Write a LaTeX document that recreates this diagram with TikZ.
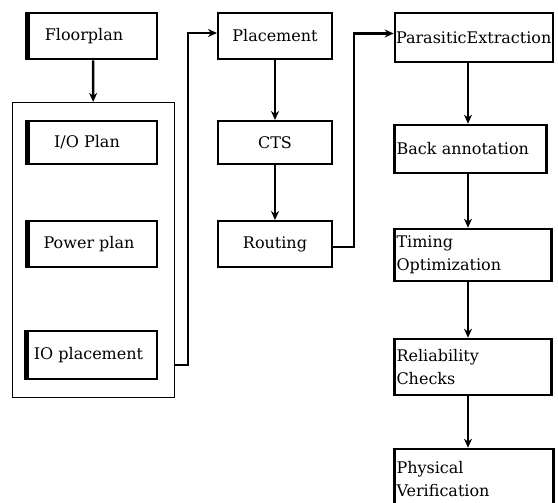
\documentclass[tikz,border=0pt]{standalone}
\usepackage{fontspec}
\setmainfont{DejaVu Serif}
\usetikzlibrary{arrows.meta}

\tikzset{
  stage/.style={draw, line width=2.6pt, inner sep=2pt, font=\fontsize{16}{23}\selectfont},
  thinstage/.style={stage, line width=2pt},
  leftstage/.style={stage, align=left, text width=#1, anchor=center},
  flow/.style={-{Stealth[length=9pt,width=8pt]}, line width=2.4pt},
}

\begin{document}
\begin{tikzpicture}[x=1pt,y=-1pt]
  \useasboundingbox (0,0) rectangle (558,503);
  % left column
  \node[stage, minimum width=128pt, minimum height=46pt] (floor) at (93,36) {Floorplan\kern18pt};
  \node[draw, line width=1.2pt, minimum width=162pt, minimum height=295pt] (group) at (93.5,250) {};
  \node[stage, minimum width=128pt, minimum height=43pt] (ioplan) at (93,142.5) {I/O Plan\kern12pt};
  \node[stage, minimum width=128pt, minimum height=46pt] (power) at (93,244) {Power plan\kern8pt};
  \node[stage, minimum width=129pt, minimum height=48pt] (ioplace) at (92.5,355) {IO placement\kern8pt};
  \foreach \n in {floor, ioplan, power, ioplace}
    \draw[line width=4.5pt] (\n.north west) -- (\n.south west);
  % middle column
  \node[thinstage, minimum width=114pt, minimum height=46pt] (place) at (275,36) {Placement};
  \node[thinstage, minimum width=114pt, minimum height=43pt] (cts) at (275,142.5) {CTS};
  \node[thinstage, minimum width=114pt, minimum height=46pt] (route) at (275,244) {Routing};
  % right column
  \node[stage, text width=156pt, minimum height=49pt, inner sep=1pt] (parex) at (474,37.5) {ParasiticExtraction};
  \node[stage, text width=148pt, minimum height=48pt] (back) at (470.5,149) {Back annotation};
  \node[leftstage=153pt, minimum height=52pt] (timing) at (473,255) {Timing\\Optimization};
  \node[leftstage=153pt, minimum height=56pt] (relia) at (473,367) {Reliability\\Checks};
  \node[leftstage=155pt, minimum height=60pt] (phys) at (474,479) {Physical\\Verification};

  \draw[flow] (floor) -- (group);
  \draw[flow] (place) -- (cts);
  \draw[flow] (cts) -- (route);
  \draw[flow] ([yshift=-10pt]ioplace.east -| group.east) -- ++(13,0) |- ([yshift=3pt]place.west);
  \draw[flow] ([yshift=-3pt]route.east) -- ++(21,0) |- ([yshift=4pt]parex.west);
  \foreach \a/\b in {parex/back, back/timing, timing/relia, relia/phys}
    \draw[flow] ([xshift=-6pt]\a.south -| phys) -- ([xshift=-6pt]\b.north -| phys);
\end{tikzpicture}
\end{document}
